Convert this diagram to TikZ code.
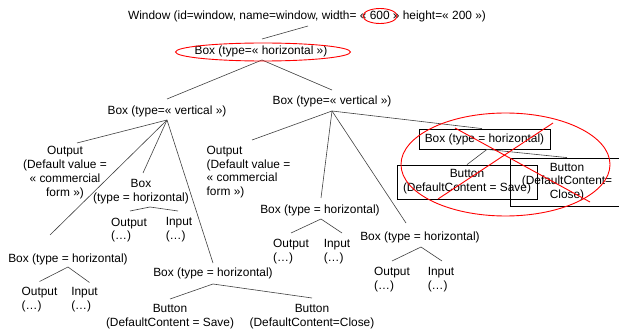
\documentclass[tikz,border=0pt]{standalone}
\usepackage{fontspec}
\setmainfont{Liberation Sans}
\begin{document}
\begin{tikzpicture}[x=1pt,y=-1pt,
  every node/.style={font=\fontsize{11.9}{13.8}\selectfont, inner sep=0pt},
  lbl/.style={align=center},
  lft/.style={align=left},
  edge/.style={draw=black!75, line width=0.6pt},
  framed/.style={draw=black, line width=0.8pt, align=center},
  redmark/.style={draw=red, line width=0.9pt}]
\useasboundingbox (0,0) rectangle (619,334);

% tree nodes
\node (win) at (307,16) {Window (id=window, name=window, width= « 600 » height=« 200 »)};
\node (bh) at (261,51) {Box (type=« horizontal »)};
\node (vl) at (167,111) {Box (type=« vertical »)};
\node (vr) at (332,101) {Box (type=« vertical »)};
\node[lbl] (outL) at (65,172.5) {Output\\(Default value =\\« commercial\\form »)};
\node[lbl] (bm) at (141,192) {Box\\(type = horizontal)};
\node[lft] (o1) at (129,230) {Output\\(…)};
\node[lft] (i1) at (179,230) {Input\\(…)};
\node (bll) at (68,259) {Box (type = horizontal)};
\node[lft] (o2) at (39.5,299.5) {Output\\(…)};
\node[lft] (i2) at (84.5,299.5) {Input\\(…)};
\node (blm) at (213,273) {Box (type = horizontal)};
\node[lbl] (save) at (170,316.5) {Button\\(DefaultContent = Save)};
\node[lbl] (close) at (312,317) {Button\\(DefaultContent=Close)};
\node[lft] (outR) at (248.5,172) {Output\\(Default value =\\« commercial\\form »)};
\node (b3) at (320,210) {Box (type = horizontal)};
\node[lft] (o3) at (291,251.5) {Output\\(…)};
\node[lft] (i3) at (337,251.5) {Input\\(…)};
\node (b4) at (420,237) {Box (type = horizontal)};
\node[lft] (o4) at (392,279.5) {Output\\(…)};
\node[lft] (i4) at (441,279.5) {Input\\(…)};
\node[framed, minimum width=131pt, minimum height=20pt] (xb) at (484.5,139) {Box (type = horizontal)};
\node[framed, minimum width=140pt, minimum height=34pt] (saveX) at (467,182) {Button\\(DefaultContent = Save)};
\node[framed, minimum width=114pt, minimum height=48pt] (closeX) at (567,182) {Button\\(DefaultContent=\\Close)};

% connectors
\draw[edge] ([shift={(1,10)}]win.center) -- ([shift={(1,-12)}]bh.center);
\draw[edge] ([shift={(1,9)}]bh.center) -- ([shift={(0,-12)}]vl.center);
\draw[edge] ([shift={(1,9)}]bh.center) -- ([shift={(0,-11)}]vr.center);

\draw[edge] ([shift={(0,9)}]vl.center) -- ([shift={(12,-29.5)}]outL.center);
\draw[edge] ([shift={(0,9)}]vl.center) -- ([shift={(2,-19)}]bm.center);
\draw[edge] ([shift={(0,9)}]vl.center) -- ([shift={(-18,-24)}]bll.center);
\draw[edge] ([shift={(0,9)}]vl.center) -- ([shift={(0,-10)}]blm.center);

\draw[edge] ([shift={(9,15)}]bm.center) -- ([shift={(1,-19)}]o1.center);
\draw[edge] ([shift={(9,15)}]bm.center) -- ([shift={(-1,-19)}]i1.center);

\draw[edge] ([shift={(0,8)}]bll.center) -- ([shift={(0,-18)}]o2.center);
\draw[edge] ([shift={(0,8)}]bll.center) -- ([shift={(5,-17)}]i2.center);

\draw[edge] ([shift={(0,11)}]blm.center) -- ([shift={(0,-17.5)}]save.center);
\draw[edge] ([shift={(0,11)}]blm.center) -- ([shift={(0,-19)}]close.center);

\draw[edge] ([shift={(0,10)}]vr.center) -- ([shift={(3.5,-32)}]outR.center);
\draw[edge] ([shift={(0,10)}]vr.center) -- ([shift={(1,-12)}]b3.center);
\draw[edge] ([shift={(0,10)}]vr.center) -- ([shift={(-14,-14)}]b4.center);
\draw[edge] ([shift={(0,10)}]vr.center) -- ([xshift=-2.5pt]xb.north);

\draw[edge] ([shift={(1,9)}]b3.center) -- ([shift={(0,-18.5)}]o3.center);
\draw[edge] ([shift={(1,9)}]b3.center) -- ([shift={(5,-18.5)}]i3.center);

\draw[edge] ([shift={(1,10)}]b4.center) -- ([shift={(0,-18.5)}]o4.center);
\draw[edge] ([shift={(1,10)}]b4.center) -- ([shift={(1,-18.5)}]i4.center);

\draw[edge] ([xshift=2.5pt]xb.south) -- (saveX.north);
\draw[edge] ([xshift=2.5pt]xb.south) -- (closeX.north);

% red annotations
\draw[redmark] ([shift={(73,0)}]win.center) ellipse [x radius=17pt, y radius=7.5pt];
\draw[redmark] ([shift={(2,1)}]bh.center) ellipse [x radius=87.5pt, y radius=9pt];
\draw[redmark] ([shift={(21,25.5)}]xb.center) ellipse [x radius=104.5pt, y radius=51.5pt];
\draw[redmark] ([shift={(68.5,-16)}]xb.center) -- ([shift={(-46.5,60)}]xb.center);
\draw[redmark] ([shift={(-29.5,-11)}]xb.center) -- ([shift={(105.5,63)}]xb.center);
\end{tikzpicture}
\end{document}
